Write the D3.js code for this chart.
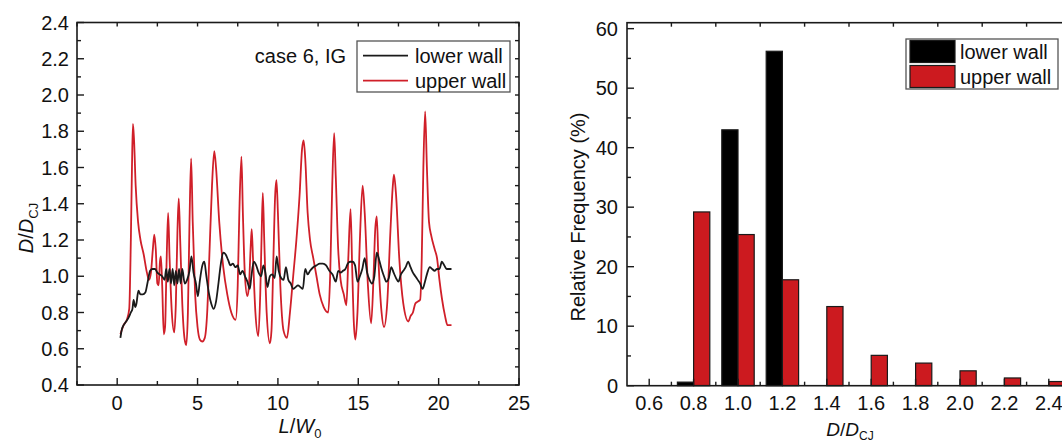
<!DOCTYPE html>
<html>
<head>
<meta charset="utf-8">
<script src="https://cdn.jsdelivr.net/npm/d3@7/dist/d3.min.js"></script>
<style>
  html, body { margin: 0; padding: 0; background: #fff; }
  svg { display: block; }
  text { font-family: "Liberation Sans", Arial, Helvetica, sans-serif; fill: #111; }
</style>
</head>
<body>
<svg id="chart" width="1062" height="444"></svg>
<script>
// ---- detonation velocity along the walls (left panel) ----
const lowerX = [0.2,0.3,0.4,0.55,0.7,0.85,0.95,1.02,1.12,1.2,1.32,1.45,1.6,1.75,1.9,2.05,2.2,2.35,2.5,2.65,2.8,2.95,3.05,3.15,3.25,3.35,3.45,3.55,3.65,3.75,3.85,3.95,4.05,4.2,4.35,4.5,4.62,4.75,4.9,5.02,5.15,5.3,5.42,5.55,5.7,5.85,6.0,6.15,6.3,6.45,6.6,6.75,6.9,7.05,7.2,7.35,7.5,7.65,7.8,7.95,8.1,8.25,8.35,8.5,8.65,8.8,8.95,9.1,9.22,9.35,9.5,9.65,9.8,9.92,10.05,10.2,10.35,10.5,10.65,10.8,10.95,11.1,11.25,11.4,11.55,11.7,11.85,12.0,12.2,12.4,12.6,12.8,13.0,13.2,13.4,13.6,13.75,13.9,14.05,14.2,14.35,14.5,14.65,14.8,14.95,15.1,15.25,15.4,15.55,15.7,15.85,16.0,16.15,16.3,16.45,16.6,16.75,16.9,17.05,17.2,17.35,17.5,17.65,17.8,17.95,18.1,18.25,18.4,18.55,18.7,18.85,19.0,19.15,19.3,19.45,19.6,19.75,19.9,20.05,20.2,20.35,20.5,20.65,20.8];
const lowerD = [0.66,0.71,0.73,0.75,0.77,0.80,0.82,0.87,0.83,0.85,0.92,0.90,0.90,0.91,0.97,1.03,1.04,1.04,1.02,1.01,1.00,0.98,1.04,0.97,1.04,0.96,1.04,0.95,1.03,0.96,1.04,0.96,1.04,0.96,0.98,1.03,1.11,1.02,0.96,0.89,0.98,1.06,1.08,1.00,0.91,0.85,0.82,0.86,0.96,1.07,1.13,1.12,1.09,1.06,1.07,1.05,1.06,1.01,1.03,1.00,0.97,0.93,1.00,1.08,1.06,1.02,1.00,1.06,1.02,0.94,1.00,1.01,0.99,1.11,1.03,0.99,0.98,1.05,0.98,0.96,0.93,0.94,0.95,0.94,0.93,1.04,1.01,1.03,1.05,1.06,1.07,1.07,1.06,1.03,1.01,0.97,1.03,1.02,1.03,1.04,1.07,1.08,1.08,1.06,0.97,1.00,1.04,1.10,1.02,0.98,0.96,1.00,1.13,1.09,1.04,1.00,0.97,0.99,1.05,1.02,0.99,0.97,1.01,1.03,1.05,1.08,1.05,1.02,1.00,0.98,0.96,0.93,0.97,1.02,1.05,1.04,1.03,1.04,1.04,1.08,1.06,1.04,1.04,1.04];

const upperX = [0.2,0.4,0.6,0.75,0.85,0.92,0.98,1.05,1.15,1.3,1.45,1.65,1.85,1.98,2.1,2.22,2.31,2.4,2.5,2.58,2.66,2.72,2.8,2.9,2.98,3.08,3.17,3.26,3.4,3.55,3.65,3.75,3.83,3.92,4.05,4.2,4.3,4.4,4.5,4.6,4.7,4.85,5.0,5.15,5.3,5.45,5.6,5.75,5.9,6.04,6.15,6.35,6.6,6.85,7.1,7.37,7.5,7.6,7.73,7.82,7.95,8.1,8.2,8.3,8.37,8.45,8.6,8.78,8.9,8.98,9.06,9.15,9.3,9.5,9.6,9.72,9.83,9.91,10.0,10.15,10.35,10.56,10.75,10.95,11.15,11.35,11.5,11.6,11.7,11.85,12.0,12.2,12.4,12.6,12.85,13.13,13.25,13.38,13.5,13.6,13.75,13.9,14.1,14.26,14.38,14.52,14.62,14.72,14.82,14.95,15.1,15.27,15.4,15.6,15.8,15.95,16.05,16.15,16.25,16.45,16.6,16.8,17.0,17.15,17.22,17.35,17.55,17.8,18.12,18.25,18.4,18.55,18.7,18.85,18.95,19.05,19.16,19.27,19.4,19.55,19.75,19.9,20.05,20.2,20.4,20.55,20.8];
const upperD = [0.68,0.73,0.76,0.82,1.20,1.60,1.84,1.75,1.50,1.30,1.20,1.12,1.02,0.98,1.02,1.15,1.23,1.15,0.96,0.95,1.08,1.11,0.95,0.68,0.72,1.10,1.35,1.10,0.80,0.69,0.85,1.25,1.43,1.20,0.85,0.65,0.62,0.80,1.30,1.65,1.30,0.90,0.72,0.65,0.64,0.66,0.80,1.15,1.50,1.69,1.60,1.30,1.05,0.90,0.80,0.76,0.95,1.35,1.66,1.35,1.00,0.89,0.95,1.15,1.26,1.10,0.80,0.67,0.90,1.20,1.46,1.20,0.80,0.63,0.70,1.10,1.45,1.53,1.35,0.95,0.70,0.66,0.80,1.00,1.20,1.45,1.70,1.75,1.65,1.35,1.20,1.10,1.00,0.90,0.83,0.80,1.00,1.50,1.79,1.55,1.15,0.98,0.90,0.84,1.10,1.37,1.05,0.75,0.65,0.80,1.20,1.50,1.35,0.95,0.74,1.00,1.25,1.33,1.10,0.80,0.72,0.85,1.25,1.50,1.56,1.45,1.10,0.85,0.75,0.78,0.80,0.85,0.86,0.87,1.10,1.60,1.91,1.60,1.30,1.22,1.15,1.10,0.98,0.88,0.78,0.73,0.73];

const leftXTicks = [0, 5, 10, 15, 20, 25];
const leftYTicks = [0.4, 0.6, 0.8, 1.0, 1.2, 1.4, 1.6, 1.8, 2.0, 2.2, 2.4];

// ---- histogram of D/D_CJ (right panel) ----
const bins = [0.6, 0.8, 1.0, 1.2, 1.4, 1.6, 1.8, 2.0, 2.2, 2.4];
const lowerFreq = [0, 0.6, 43.0, 56.2, 0, 0, 0, 0, 0, 0];
const upperFreq = [0, 29.2, 25.4, 17.8, 13.3, 5.1, 3.8, 2.5, 1.3, 0.7];
const rightYTicks = [0, 10, 20, 30, 40, 50, 60];

const RED_LINE = "#d01f29";
const RED_BAR = "#cc1a1f";
const INK = "#1a1a1a";

const svg = d3.select("#chart");
svg.append("rect").attr("width", 1062).attr("height", 444).attr("fill", "#fff");

function frameTicks(g, x, y, xMajor, xMinor, yMajor, yMinor, topTicks, rightTicks) {
  const [x0, x1] = x.range();
  const [y0, y1] = y.range(); // y0 bottom, y1 top
  const t = g.append("g").attr("stroke", INK).attr("stroke-width", 1.4);
  const tick = (xa, ya, xb, yb) => t.append("line").attr("x1", xa).attr("y1", ya).attr("x2", xb).attr("y2", yb);
  xMajor.forEach(v => tick(x(v), y0, x(v), y0 - 7));
  xMinor.forEach(v => tick(x(v), y0, x(v), y0 - 4));
  yMajor.forEach(v => tick(x0, y(v), x0 + 7, y(v)));
  yMinor.forEach(v => tick(x0, y(v), x0 + 4, y(v)));
  topTicks.forEach(v => tick(x(v), y1, x(v), y1 + 4));
  rightTicks.forEach(v => tick(x1, y(v), x1 - 4, y(v)));
}

// ================= LEFT PANEL =================
{
  const x = d3.scaleLinear().domain([-2.5, 25]).range([77, 519]);
  const y = d3.scaleLinear().domain([0.4, 2.4]).range([385, 22.5]);
  const g = svg.append("g");

  const line = d3.line().x(d => x(d[0])).y(d => y(d[1])).curve(d3.curveMonotoneX);
  const upper = upperX.map((v, i) => [v, upperD[i]]);
  const lower = lowerX.map((v, i) => [v, lowerD[i]]);

  g.append("path").datum(upper).attr("d", line)
    .attr("fill", "none").attr("stroke", RED_LINE).attr("stroke-width", 1.8).attr("stroke-linejoin", "round");
  g.append("path").datum(lower).attr("d", line)
    .attr("fill", "none").attr("stroke", INK).attr("stroke-width", 1.8).attr("stroke-linejoin", "round");

  // frame
  g.append("rect").attr("x", 77).attr("y", 22.5).attr("width", 519 - 77).attr("height", 385 - 22.5)
    .attr("fill", "none").attr("stroke", INK).attr("stroke-width", 1.6);

  const xMinor = d3.range(-2.5, 25, 5);
  const yMinor = d3.range(0.5, 2.4, 0.2);
  frameTicks(g, x, y, leftXTicks, xMinor, leftYTicks, yMinor,
    leftXTicks.concat(xMinor), leftYTicks.concat(yMinor));

  g.selectAll("text.xl").data(leftXTicks).join("text")
    .attr("x", d => x(d)).attr("y", 410).attr("text-anchor", "middle")
    .attr("font-size", 20).text(d => d);
  g.selectAll("text.yl").data(leftYTicks).join("text")
    .attr("x", 69).attr("y", d => y(d) + 7).attr("text-anchor", "end")
    .attr("font-size", 20).text(d => d.toFixed(1));

  // axis titles
  const xt = g.append("text").attr("x", 300).attr("y", 433).attr("text-anchor", "middle").attr("font-size", 20);
  xt.append("tspan").attr("font-style", "italic").text("L");
  xt.append("tspan").text("/");
  xt.append("tspan").attr("font-style", "italic").text("W");
  xt.append("tspan").attr("font-size", 13).attr("dy", 5).text("0");

  const yt = g.append("text").attr("transform", "translate(33,228) rotate(-90)")
    .attr("text-anchor", "middle").attr("font-size", 20);
  yt.append("tspan").attr("font-style", "italic").text("D");
  yt.append("tspan").text("/");
  yt.append("tspan").attr("font-style", "italic").text("D");
  yt.append("tspan").attr("font-size", 13).attr("dy", 5).text("CJ");

  // annotation and legend
  g.append("text").attr("x", 346).attr("y", 62.7).attr("text-anchor", "end").attr("font-size", 20).text("case 6, IG");
  g.append("rect").attr("x", 357).attr("y", 41).attr("width", 153).attr("height", 51)
    .attr("fill", "#fff").attr("stroke", "#555").attr("stroke-width", 1.3);
  g.append("line").attr("x1", 363).attr("x2", 408).attr("y1", 55.7).attr("y2", 55.7).attr("stroke", INK).attr("stroke-width", 1.8);
  g.append("line").attr("x1", 363).attr("x2", 408).attr("y1", 80.7).attr("y2", 80.7).attr("stroke", RED_LINE).attr("stroke-width", 1.8);
  g.append("text").attr("x", 415).attr("y", 62.7).attr("font-size", 20).text("lower wall");
  g.append("text").attr("x", 415).attr("y", 87.7).attr("font-size", 20).text("upper wall");
}

// ================= RIGHT PANEL =================
{
  const x = d3.scaleLinear().domain([0.5, 2.5]).range([627, 1071]);
  const y = d3.scaleLinear().domain([0, 61]).range([385.7, 22.7]);
  const g = svg.append("g");
  const w = 0.073;

  const rows = bins.map((b, i) => ({ b, lo: lowerFreq[i], up: upperFreq[i] }));
  g.selectAll("rect.lo").data(rows.filter(d => d.lo > 0)).join("rect")
    .attr("x", d => x(d.b - w)).attr("width", d => x(d.b) - x(d.b - w))
    .attr("y", d => y(d.lo)).attr("height", d => y(0) - y(d.lo))
    .attr("fill", "#000").attr("stroke", INK).attr("stroke-width", 1.2);
  g.selectAll("rect.up").data(rows.filter(d => d.up > 0)).join("rect")
    .attr("x", d => x(d.b)).attr("width", d => x(d.b + w) - x(d.b))
    .attr("y", d => y(d.up)).attr("height", d => y(0) - y(d.up))
    .attr("fill", RED_BAR).attr("stroke", INK).attr("stroke-width", 1.2);

  // frame
  g.append("rect").attr("x", 627).attr("y", 22.7).attr("width", 1071 - 627).attr("height", 385.7 - 22.7)
    .attr("fill", "none").attr("stroke", INK).attr("stroke-width", 1.6);

  const xMinor = d3.range(0.7, 2.5, 0.2);
  const yMinor = d3.range(5, 61, 10);
  frameTicks(g, x, y, bins, xMinor, rightYTicks, yMinor, xMinor, []);

  g.selectAll("text.xl").data(bins).join("text")
    .attr("x", d => x(d)).attr("y", 410).attr("text-anchor", "middle")
    .attr("font-size", 20).text(d => d.toFixed(1));
  g.selectAll("text.yl").data(rightYTicks).join("text")
    .attr("x", 618).attr("y", d => y(d) + 7).attr("text-anchor", "end")
    .attr("font-size", 20).text(d => d);

  const xt = g.append("text").attr("x", 850).attr("y", 436).attr("text-anchor", "middle").attr("font-size", 19);
  xt.append("tspan").attr("font-style", "italic").text("D");
  xt.append("tspan").text("/");
  xt.append("tspan").attr("font-style", "italic").text("D");
  xt.append("tspan").attr("font-size", 12).attr("dy", 4).text("CJ");

  g.append("text").attr("transform", "translate(585,217) rotate(-90)")
    .attr("text-anchor", "middle").attr("font-size", 20).text("Relative Frequency (%)");

  // legend
  g.append("rect").attr("x", 906).attr("y", 39).attr("width", 152).attr("height", 50)
    .attr("fill", "#fff").attr("stroke", "#555").attr("stroke-width", 1.3);
  g.append("rect").attr("x", 910).attr("y", 40.5).attr("width", 45).attr("height", 22)
    .attr("fill", "#000").attr("stroke", INK).attr("stroke-width", 1.2);
  g.append("rect").attr("x", 910).attr("y", 65.5).attr("width", 45).attr("height", 22)
    .attr("fill", RED_BAR).attr("stroke", INK).attr("stroke-width", 1.2);
  g.append("text").attr("x", 960).attr("y", 58.6).attr("font-size", 20).text("lower wall");
  g.append("text").attr("x", 960).attr("y", 83.5).attr("font-size", 20).text("upper wall");
}
</script>
</body>
</html>
